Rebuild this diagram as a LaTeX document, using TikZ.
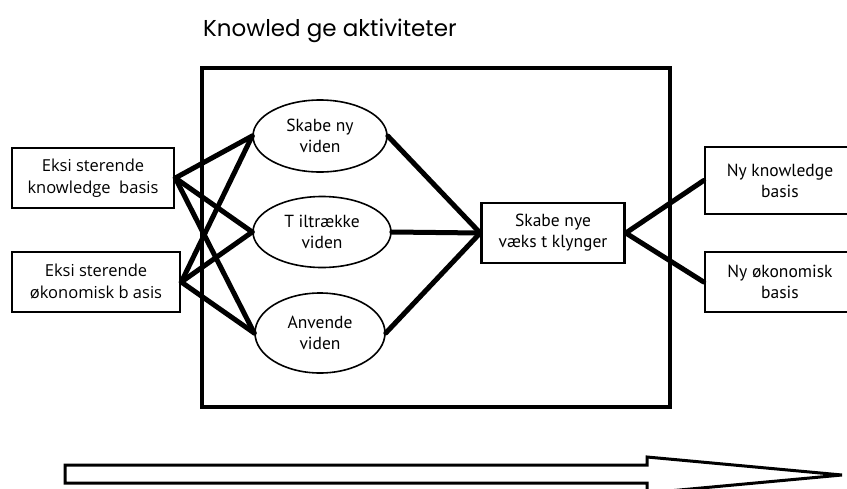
\documentclass[tikz,border=0pt]{standalone}
\usepackage{fontspec}
\setmainfont{PT Sans}
\newfontfamily\titlefont{Poppins}
\newfontfamily\widefont{Open Sans}
\usetikzlibrary{positioning,shapes.geometric}

\begin{document}
\begin{tikzpicture}[x=1pt,y=-1pt,
  every node/.style={font=\fontsize{17.5}{21}\selectfont},
  basebox/.style={draw=black,line width=2.6pt,align=center,inner sep=2pt,minimum height=60pt},
  aktiv/.style={draw=black,ellipse,line width=1.6pt,align=center,inner sep=0pt},
  frame/.style={draw=black,line width=3.6pt,minimum width=468pt,minimum height=339pt},
  link/.style={line width=5pt,line cap=round}]
\useasboundingbox (0,0) rectangle (847,488);
% ramme og titel
\node[frame] (akt) at (436,237.5) {};
\node[anchor=west,inner sep=0pt,font=\titlefont\fontsize{23}{26}\selectfont] (titel) at (203,31) {Knowled ge aktiviteter};
% eksisterende basis
\node[basebox,minimum width=162pt,font=\widefont\fontsize{16.5}{22}\selectfont] (kb1) at (93,178) {Eksi sterende\\knowledge\ \ basis};
\node[basebox,minimum width=168pt,font=\widefont\fontsize{16.5}{22}\selectfont] (kb2) at (96,282) {Eksi sterende\\økonomisk b\ asis};
% aktiviteter
\node[aktiv,minimum width=134pt,minimum height=72pt] (e1) at (320,136) {Skabe ny\\viden};
\node[aktiv,minimum width=138pt,minimum height=71pt] (e2) at (322,232) {T iltrække\\viden};
\node[aktiv,minimum width=130pt,minimum height=80pt] (e3) at (320,333) {Anvende\\viden};
% klynger og ny basis
\node[basebox,minimum width=143pt] (vk) at (553,233) {Skabe nye\\væks t klynger};
\node[basebox,minimum width=150pt,minimum height=67pt] (nk) at (780,180.5) {Ny knowledge\\basis};
\node[basebox,minimum width=150pt] (no) at (780,282) {Ny økonomisk\\basis};
\foreach \k in {kb1,kb2} \foreach \e in {e1,e2,e3} \draw[link] (\k.east) -- (\e.west);
\foreach \e in {e1,e2,e3} \draw[link] (\e.east) -- (vk.west);
\foreach \n in {nk,no} \draw[link] (vk.east) -- (\n.west);
% tidspil
\draw[line width=3pt,line join=miter] (65,465) -- (647,465) -- (647,457) -- (842,475) -- (647,493) -- (647,483) -- (65,483) -- cycle;
\end{tikzpicture}
\end{document}
